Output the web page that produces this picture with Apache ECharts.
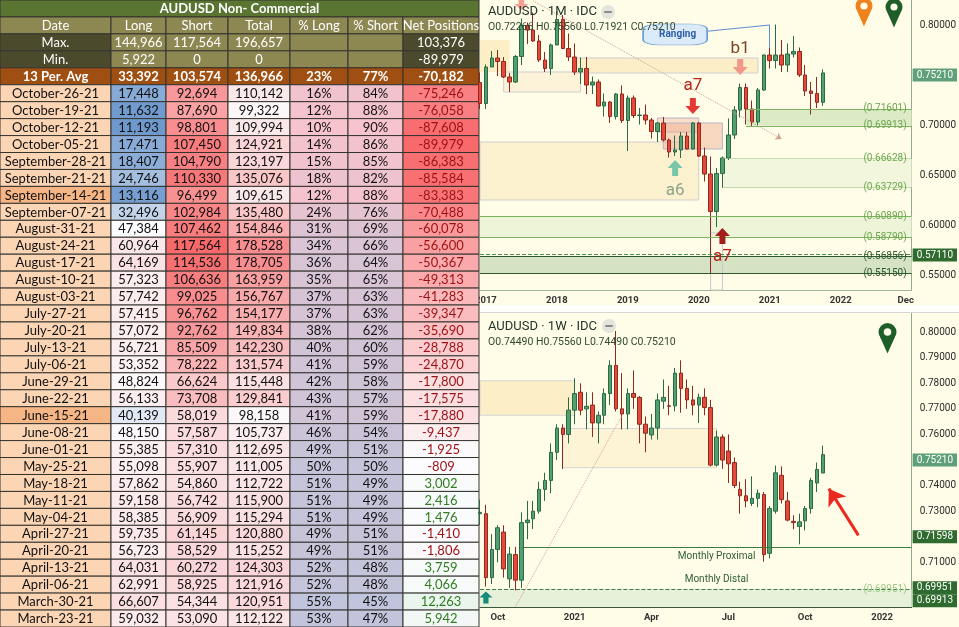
<!DOCTYPE html>
<html>
<head>
<meta charset="utf-8">
<title>AUDUSD Non-Commercial</title>
<script src="https://cdn.jsdelivr.net/npm/echarts/dist/echarts.min.js"></script>
<style>
  html, body { margin: 0; padding: 0; background: #fffce8; }
  #chart { width: 959px; height: 627px; }
</style>
</head>
<body>
<div id="chart"></div>
<script>
// COT table
const headers = ['Date', 'Long', 'Short', 'Total', '% Long', '% Short', 'Net Positions']
const dates = ['October-26-21', 'October-19-21', 'October-12-21', 'October-05-21', 'September-28-21', 'September-21-21',
  'September-14-21', 'September-07-21', 'August-31-21', 'August-24-21', 'August-17-21', 'August-10-21', 'August-03-21',
  'July-27-21', 'July-20-21', 'July-13-21', 'July-06-21', 'June-29-21', 'June-22-21', 'June-15-21', 'June-08-21',
  'June-01-21', 'May-25-21', 'May-18-21', 'May-11-21', 'May-04-21', 'April-27-21', 'April-20-21', 'April-13-21',
  'April-06-21', 'March-30-21', 'March-23-21']
const longs = [17448, 11632, 11193, 17471, 18407, 24746, 13116, 32496, 47384, 60964, 64169, 57323, 57742, 57415, 57072,
  56721, 53352, 48824, 56133, 40139, 48150, 55385, 55098, 57862, 59158, 58385, 59735, 56723, 64031, 62991, 66607, 59032]
const shorts = [92694, 87690, 98801, 107450, 104790, 110330, 96499, 102984, 107462, 117564, 114536, 106636, 99025, 96762,
  92762, 85509, 78222, 66624, 73708, 58019, 57587, 57310, 55907, 54860, 56742, 56909, 61145, 58529, 60272, 58925, 54344, 53090]
const totals = [110142, 99322, 109994, 124921, 123197, 135076, 109615, 135480, 154846, 178528, 178705, 163959, 156767,
  154177, 149834, 142230, 131574, 115448, 129841, 98158, 105737, 112695, 111005, 112722, 115900, 115294, 120880, 115252,
  124303, 121916, 120951, 112122]
const pctLong = [16, 12, 10, 14, 15, 18, 12, 24, 31, 34, 36, 35, 37, 37, 38, 40, 41, 42, 43, 41, 46, 49, 50, 51, 51, 51, 49, 49, 52, 52, 55, 53]
const pctShort = [84, 88, 90, 86, 85, 82, 88, 76, 69, 66, 64, 65, 63, 63, 62, 60, 59, 58, 57, 59, 54, 51, 50, 49, 49, 49, 51, 51, 48, 48, 45, 47]
const netPos = [-75246, -76058, -87608, -89979, -86383, -85584, -83383, -70488, -60078, -56600, -50367, -49313, -41283,
  -39347, -35690, -28788, -24870, -17800, -17575, -17880, -9437, -1925, -809, 3002, 2416, 1476, -1410, -1806, 3759, 4066, 12263, 5942]
const maxRow = [144966, 117564, 196657, null, null, 103376]
const minRow = [5922, 0, 0, null, null, -89979]
const avgRow = [33392, 103574, 136966, 23, 77, -70182]
const highlightDates = ['September-14-21', 'June-15-21']

// monthly candles, Dec-2016 .. Oct-2021: [open, close, low, high]
const monthlyOHLC = [
  [0.7425, 0.7215, 0.7160, 0.7525], [0.7215, 0.7580, 0.7160, 0.7605], [0.7580, 0.7670, 0.7580, 0.7740],
  [0.7670, 0.7635, 0.7490, 0.7750], [0.7635, 0.7480, 0.7470, 0.7680], [0.7480, 0.7430, 0.7330, 0.7520],
  [0.7430, 0.7685, 0.7420, 0.7700], [0.7685, 0.7995, 0.7600, 0.8065], [0.7995, 0.7950, 0.7810, 0.8025],
  [0.7950, 0.7840, 0.7830, 0.8125], [0.7840, 0.7650, 0.7630, 0.7900], [0.7650, 0.7565, 0.7530, 0.7730],
  [0.7565, 0.7800, 0.7500, 0.7815], [0.7800, 0.8055, 0.7800, 0.8135], [0.8055, 0.7765, 0.7760, 0.8100],
  [0.7765, 0.7680, 0.7640, 0.7915], [0.7680, 0.7530, 0.7500, 0.7815], [0.7530, 0.7565, 0.7410, 0.7675],
  [0.7565, 0.7400, 0.7310, 0.7680], [0.7400, 0.7430, 0.7310, 0.7485], [0.7430, 0.7190, 0.7185, 0.7455],
  [0.7190, 0.7230, 0.7085, 0.7315], [0.7230, 0.7085, 0.7020, 0.7240], [0.7085, 0.7310, 0.7055, 0.7320],
  [0.7310, 0.7045, 0.7020, 0.7395], [0.7045, 0.7270, 0.6740, 0.7295], [0.7270, 0.7095, 0.7070, 0.7295],
  [0.7095, 0.7100, 0.7005, 0.7170], [0.7100, 0.7050, 0.7005, 0.7205], [0.7050, 0.6935, 0.6865, 0.7070],
  [0.6935, 0.7020, 0.6830, 0.7030], [0.7020, 0.6850, 0.6835, 0.7080], [0.6850, 0.6730, 0.6675, 0.6865],
  [0.6730, 0.6750, 0.6690, 0.6895], [0.6750, 0.6890, 0.6670, 0.6930], [0.6890, 0.6760, 0.6755, 0.6930],
  [0.6760, 0.7020, 0.6755, 0.7030], [0.7020, 0.6690, 0.6680, 0.7030], [0.6690, 0.6510, 0.6435, 0.6775],
  [0.6510, 0.6135, 0.5510, 0.6685], [0.6135, 0.6515, 0.5980, 0.6570], [0.6515, 0.6670, 0.6370, 0.6685],
  [0.6670, 0.6900, 0.6650, 0.7065], [0.6900, 0.7150, 0.6860, 0.7190], [0.7150, 0.7375, 0.7075, 0.7415],
  [0.7375, 0.7160, 0.7005, 0.7415], [0.7160, 0.7030, 0.6990, 0.7245], [0.7030, 0.7350, 0.6990, 0.7370],
  [0.7350, 0.7700, 0.7340, 0.7705], [0.7700, 0.7645, 0.7565, 0.7820], [0.7645, 0.7700, 0.7565, 0.8005],
  [0.7700, 0.7600, 0.7530, 0.7850], [0.7600, 0.7710, 0.7530, 0.7815], [0.7710, 0.7735, 0.7675, 0.7890],
  [0.7735, 0.7500, 0.7480, 0.7775], [0.7500, 0.7340, 0.7290, 0.7600], [0.7340, 0.7315, 0.7105, 0.7430],
  [0.7315, 0.7227, 0.7170, 0.7480], [0.72266, 0.75210, 0.71921, 0.75560]
]
// weekly candles from 14-Sep-2020: [open, close, low, high]
const weeklyOHLC = [
  [0.7290, 0.7295, 0.7245, 0.7345], [0.7290, 0.7040, 0.7005, 0.7325], [0.7040, 0.7150, 0.7015, 0.7210],
  [0.7150, 0.7235, 0.7100, 0.7245], [0.7218, 0.7074, 0.7040, 0.7245], [0.7035, 0.7132, 0.7000, 0.7160],
  [0.7130, 0.7030, 0.6990, 0.7160], [0.7030, 0.7255, 0.7000, 0.7295], [0.7255, 0.7265, 0.7190, 0.7340],
  [0.7270, 0.7300, 0.7230, 0.7340], [0.7300, 0.7385, 0.7290, 0.7415], [0.7385, 0.7420, 0.7340, 0.7450],
  [0.7420, 0.7530, 0.7370, 0.7565], [0.7530, 0.7625, 0.7500, 0.7640], [0.7625, 0.7600, 0.7465, 0.7640],
  [0.7600, 0.7695, 0.7565, 0.7745], [0.7695, 0.7760, 0.7640, 0.7820], [0.7765, 0.7695, 0.7675, 0.7800],
  [0.7700, 0.7710, 0.7620, 0.7765], [0.7715, 0.7645, 0.7590, 0.7765], [0.7645, 0.7675, 0.7565, 0.7690],
  [0.7675, 0.7760, 0.7640, 0.7780], [0.7760, 0.7870, 0.7715, 0.7890], [0.7870, 0.7700, 0.7690, 0.8005],
  [0.7700, 0.7680, 0.7620, 0.7840], [0.7680, 0.7760, 0.7620, 0.7780], [0.7760, 0.7745, 0.7700, 0.7850],
  [0.7745, 0.7640, 0.7565, 0.7750], [0.7640, 0.7605, 0.7530, 0.7670], [0.7598, 0.7625, 0.7580, 0.7680],
  [0.7625, 0.7735, 0.7580, 0.7760], [0.7730, 0.7745, 0.7700, 0.7815], [0.7712, 0.7710, 0.7675, 0.7790],
  [0.7712, 0.7840, 0.7690, 0.7860], [0.7840, 0.7780, 0.7685, 0.7890], [0.7780, 0.7735, 0.7700, 0.7815],
  [0.7735, 0.7715, 0.7675, 0.7790], [0.7715, 0.7745, 0.7645, 0.7760], [0.7745, 0.7705, 0.7675, 0.7780],
  [0.7705, 0.7480, 0.7475, 0.7735], [0.7480, 0.7590, 0.7475, 0.7615], [0.7590, 0.7500, 0.7465, 0.7600],
  [0.7535, 0.7485, 0.7410, 0.7600], [0.7490, 0.7400, 0.7390, 0.7510], [0.7385, 0.7360, 0.7290, 0.7415],
  [0.7360, 0.7340, 0.7315, 0.7425], [0.7330, 0.7350, 0.7320, 0.7436], [0.7350, 0.7370, 0.7315, 0.7385],
  [0.7365, 0.7130, 0.7102, 0.7375], [0.7135, 0.7310, 0.7115, 0.7320], [0.7300, 0.7450, 0.7290, 0.7478],
  [0.7440, 0.7345, 0.7330, 0.7475], [0.7340, 0.7265, 0.7260, 0.7375], [0.7260, 0.7255, 0.7229, 0.7284],
  [0.7240, 0.7258, 0.7170, 0.7290], [0.7262, 0.7310, 0.7225, 0.7320], [0.7310, 0.7420, 0.7290, 0.7430],
  [0.7410, 0.7463, 0.7375, 0.7490], [0.7449, 0.7521, 0.7449, 0.7556]
]
const lastPrice = 0.75210
const mZone1 = [0.71601, 0.69913]
const mZone2 = [0.66628, 0.63729]
const mZone3 = [0.60890, 0.58790]
const mZone4 = [0.56856, 0.55150]
const mDashed = 0.57110
const wProximal = 0.71598
const wDistal = 0.69951
const wDistal2 = 0.69913

// axis categories
const months = []
for (let i = 0; i < 74; i++) months.push(new Date(Date.UTC(2016, 11 + i, 1)).toISOString().slice(0, 7))
const weeks = []
for (let i = 0; i < 74; i++) weeks.push(new Date(Date.UTC(2020, 8, 14 + 7 * i)).toISOString().slice(0, 10))
const M = i => months[i]
const W = i => weeks[i]

// colour helpers (excel-like conditional formatting)
function toRgb(h) { return [1, 3, 5].map(i => parseInt(h.slice(i, i + 2), 16)) }
function mix(a, b, t) {
  t = Math.max(0, Math.min(1, t))
  const A = toRgb(a), B = toRgb(b)
  return 'rgb(' + A.map((v, i) => Math.round(v + (B[i] - v) * t)).join(',') + ')'
}
const WHITE = '#fcfcfe', RED = '#f8696b', BLUE = '#5a8ac6', GREEN = '#63be7b'
const longColor = v => v < 47000 ? mix(BLUE, WHITE, (v - 5922) / (47000 - 5922)) : mix(WHITE, RED, (v - 47000) / (144966 - 47000))
const shortColor = v => mix(WHITE, RED, (v - 40000) / (117564 - 40000))
const totalColor = v => mix(WHITE, RED, (v - 95000) / (205000 - 95000))
const pctColor = p => mix('#f7c3cc', '#c0c4dc', (p - 10) / 45)
const netColor = v => v < 0 ? mix(WHITE, RED, -v / 89979) : mix(WHITE, GREEN, v / 103376)
const fmt = v => v === null ? '' : String(v).replace(/\B(?=(\d{3})+(?!\d))/g, ',')

// table cells
const colEdges = [0, 111, 166, 228, 290, 348, 403, 479]
const rowKeys = []
for (let i = 0; i < dates.length + 5; i++) rowKeys.push(String(i))
const cells = []
function cell(col, row, span, text, fill, color, weight) {
  cells.push({ value: [col, row], col, row, span, text, fill, color, weight: weight || 'normal' })
}
const KHAKI = '#8d8752', DARK = '#4b4a2d'
cell(0, 0, 7, 'AUDUSD Non- Commercial', '#597531', '#fff', 'bold')
headers.forEach((h, i) => cell(i, 1, 1, h, KHAKI, '#fff'))
;[['Max.', maxRow], ['Min.', minRow]].forEach(([label, vals], k) => {
  cell(0, 2 + k, 1, label, DARK, '#fff')
  vals.forEach((v, i) => cell(i + 1, 2 + k, 1, fmt(v), i === 5 ? DARK : KHAKI, '#fff'))
})
cell(0, 4, 1, '13 Per. Avg', '#9f4f11', '#fff', 'bold')
avgRow.forEach((v, i) => cell(i + 1, 4, 1, (i === 3 || i === 4) ? v + '%' : fmt(v), '#9f4f11', '#fff', 'bold'))
dates.forEach((d, r) => {
  const row = r + 5
  cell(0, row, 1, d, highlightDates.includes(d) ? '#f5b584' : '#fcd5b5', '#111')
  cell(1, row, 1, fmt(longs[r]), longColor(longs[r]), '#111')
  cell(2, row, 1, fmt(shorts[r]), shortColor(shorts[r]), '#111')
  cell(3, row, 1, fmt(totals[r]), totalColor(totals[r]), '#111')
  cell(4, row, 1, pctLong[r] + '%', pctColor(pctLong[r]), '#111')
  cell(5, row, 1, pctShort[r] + '%', pctColor(pctLong[r]), '#111')
  cell(6, row, 1, fmt(netPos[r]), netColor(netPos[r]), netPos[r] < 0 ? '#9c1014' : '#2f7d1f')
})

function renderCell(params, api) {
  const c = cells[params.dataIndex]
  const h = api.size([0, 1])[1]
  const yc = api.coord([0, c.row])[1]
  const x0 = api.coord([colEdges[c.col], c.row])[0]
  const x1 = api.coord([colEdges[c.col + c.span], c.row])[0]
  return {
    type: 'group',
    children: [
      { type: 'rect', shape: { x: x0, y: yc - h / 2, width: x1 - x0, height: h },
        style: { fill: c.fill, stroke: '#34342f', lineWidth: 1 } },
      { type: 'text', style: { x: (x0 + x1) / 2, y: yc + 0.5, text: c.text, fill: c.color,
        font: c.weight + ' 13px Lato', align: 'center', verticalAlign: 'middle' } }
    ]
  }
}

// marker helpers
const DOWN = 'path://M3,0L7,0L7,5L10,5L5,10L0,5L3,5Z'
const UP = 'path://M5,0L10,5L7,5L7,10L3,10L3,5L0,5Z'
const level = (y, from, to, color, type, text, textColor) => [
  { coord: [from, y], lineStyle: { color, type, width: 1 },
    label: text ? { show: true, position: 'insideEnd', formatter: text, color: textColor || color, fontSize: 10, fontFamily: 'Roboto' } : { show: false } },
  { coord: [to, y] }
]
const tag = (y, bg, dy) => ({
  yAxis: y, lineStyle: { color: 'rgba(0,0,0,0)', width: 0 },
  label: { show: true, position: 'end', distance: 1, formatter: y.toFixed(5), backgroundColor: bg, color: '#fff',
    padding: [2, 4, 1, 4], fontSize: 10, fontFamily: 'Roboto', offset: [0, dy || 0] }
})
const txt = (x, y, text, color, size) => ({
  coord: [x, y], symbol: 'circle', symbolSize: 1, itemStyle: { color: 'rgba(0,0,0,0)' },
  label: { show: true, position: 'inside', formatter: text, color, fontSize: size || 17, fontFamily: 'Roboto' }
})
const arrow = (x, y, sym, color, size) => ({
  coord: [x, y], symbol: sym, symbolSize: size || [15, 16], symbolKeepAspect: false,
  itemStyle: { color }, label: { show: false }
})
// map-pin icon built from basic shapes
const pin = (cx, cy, r, color) => [
  { type: 'polygon', shape: { points: [[cx - r * 0.85, cy + r * 0.5], [cx + r * 0.85, cy + r * 0.5], [cx, cy + r * 2.4]] }, style: { fill: color }, z: 10 },
  { type: 'circle', shape: { cx, cy, r }, style: { fill: color }, z: 10 },
  { type: 'circle', shape: { cx, cy, r: r * 0.42 }, style: { fill: '#fffce8' }, z: 11 }
]

const candleStyle = {
  color: '#51a070', color0: '#e4493a', borderColor: '#2c6a45', borderColor0: '#8e2a1f', borderWidth: 1
}
// price labels only on round levels (step in 1/10000 units)
const yLabel = (v, step, hide) => {
  const k = Math.round(v * 10000)
  return (k % step === 0 && !hide.includes(k)) ? v.toFixed(5) : ''
}

const chart = echarts.init(document.getElementById('chart'))
chart.setOption({
  animation: false,
  backgroundColor: '#fffce8',
  grid: [
    { left: 0, top: 0, width: 479, height: 627 },
    { left: 480, top: 0, width: 433, height: 290 },
    { left: 480, top: 313, width: 433, height: 294 }
  ],
  xAxis: [
    { gridIndex: 0, type: 'value', min: 0, max: 479, show: false },
    {
      gridIndex: 1, type: 'category', data: months, boundaryGap: false,
      axisLine: { lineStyle: { color: '#a4b3a0' } }, axisTick: { show: false }, splitLine: { show: false },
      axisLabel: {
        interval: (i, v) => v.endsWith('-01') || v === '2022-12',
        formatter: v => v.endsWith('-01') ? v.slice(0, 4) : 'Dec',
        color: '#333', fontSize: 9.5, fontWeight: 'bold', fontFamily: 'Roboto', margin: 6
      }
    },
    {
      gridIndex: 2, type: 'category', data: weeks, boundaryGap: false,
      axisLine: { lineStyle: { color: '#3a5a3a' } }, axisTick: { show: false }, splitLine: { show: false },
      axisLabel: {
        interval: (i, v) => [1, 4, 7, 10].includes(+v.slice(5, 7)) && +v.slice(8, 10) <= 7,
        formatter: v => { const m = +v.slice(5, 7); return m === 1 ? v.slice(0, 4) : ({ 4: 'Apr', 7: 'Jul', 10: 'Oct' })[m] },
        color: '#333', fontSize: 9.5, fontWeight: 'bold', fontFamily: 'Roboto', margin: 6
      }
    }
  ],
  yAxis: [
    { gridIndex: 0, type: 'category', data: rowKeys, inverse: true, show: false },
    {
      gridIndex: 1, type: 'value', position: 'right', min: 0.535, max: 0.825, interval: 0.005,
      axisLine: { show: true, lineStyle: { color: '#93a890' } }, axisTick: { show: false }, splitLine: { show: false },
      axisLabel: { formatter: v => yLabel(v, 500, [7500]), color: '#2b2b2b', fontSize: 10, fontFamily: 'Roboto', margin: 8 }
    },
    {
      gridIndex: 2, type: 'value', position: 'right', min: 0.6925, max: 0.8075, interval: 0.0025,
      axisLine: { show: true, lineStyle: { color: '#93a890' } }, axisTick: { show: false }, splitLine: { show: false },
      axisLabel: { formatter: v => yLabel(v, 100, [7500, 7000]), color: '#2b2b2b', fontSize: 10, fontFamily: 'Roboto', margin: 8 }
    }
  ],
  series: [
    {
      type: 'custom', xAxisIndex: 0, yAxisIndex: 0, renderItem: renderCell,
      data: cells.map(c => c.value), encode: { x: 0, y: 1 }, silent: true
    },
    {
      type: 'candlestick', xAxisIndex: 1, yAxisIndex: 1, data: monthlyOHLC, barWidth: 4, itemStyle: candleStyle,
      markArea: {
        silent: true,
        data: [
          [{ coord: [M(0), 0.785], itemStyle: { color: '#fcefc6' } }, { coord: [M(5), 0.753] }],
          [{ coord: [M(4), 0.753], itemStyle: { color: '#fdf3d8', borderColor: '#cdcdcd', borderWidth: 1 } }, { coord: [M(17), 0.733] }],
          [{ coord: [M(16), 0.767], itemStyle: { color: '#fcefc8', borderColor: '#cfcfcf', borderWidth: 1 } }, { coord: [M(47), 0.752] }],
          [{ coord: [M(0), 0.683], itemStyle: { color: '#fcf1cf', borderColor: '#cfcfcf', borderWidth: 1 } }, { coord: [M(37), 0.625] }],
          [{ coord: [M(30), 0.707], itemStyle: { color: 'rgba(238,170,140,0.35)', borderColor: '#b9b4cc', borderWidth: 1 } }, { coord: [M(37), 0.693] }],
          [{ coord: [M(31), 0.702], itemStyle: { color: 'rgba(238,170,140,0.45)', borderColor: '#b9b4cc', borderWidth: 1 } }, { coord: [M(41), 0.676] }],
          [{ coord: [M(45), mZone1[0]], itemStyle: { color: '#dcebc6' } }, { coord: [M(73), mZone1[1]] }],
          [{ coord: [M(41), mZone2[0]], itemStyle: { color: '#f1f6dc' } }, { coord: [M(73), mZone2[1]] }],
          [{ coord: [M(0), mZone3[0]], itemStyle: { color: '#eef4d8' } }, { coord: [M(73), mZone3[1]] }],
          [{ coord: [M(0), mZone4[0]], itemStyle: { color: '#d5e2c3' } }, { coord: [M(73), mZone4[1]] }],
          [{ coord: [M(39), 0.592], itemStyle: { color: 'rgba(0,0,0,0)', borderColor: '#c9c9c9', borderWidth: 1 } }, { coord: [M(41), 0.535] }]
        ]
      },
      markLine: {
        silent: true, symbol: ['none', 'none'],
        data: [
          level(mZone1[0], M(45), M(73), '#7db45d', 'solid', '(0.71601)', '#6aa84f'),
          level(mZone1[1], M(45), M(73), '#7db45d', 'solid', '(0.69913)', '#6aa84f'),
          level(mZone2[0], M(41), M(73), '#8fbf74', 'dotted', '(0.66628)', '#6aa84f'),
          level(mZone2[1], M(41), M(73), '#8fbf74', 'dotted', '(0.63729)', '#6aa84f'),
          level(mZone3[0], M(0), M(73), '#7db45d', 'solid', '(0.60890)', '#6aa84f'),
          level(mZone3[1], M(0), M(73), '#7db45d', 'solid', '(0.58790)', '#6aa84f'),
          level(mDashed, M(0), M(73), '#4f8f4f', 'dashed', '', ''),
          level(mZone4[0], M(0), M(73), '#2f5a2f', 'solid', '(0.56856)', '#2f5a2f'),
          level(mZone4[1], M(0), M(73), '#2f5a2f', 'solid', '(0.55150)', '#2f5a2f'),
          [{ coord: [M(9), 0.824], lineStyle: { color: '#c9a58c', type: 'dotted', width: 1 } }, { coord: [M(51), 0.686], symbol: 'arrow', symbolSize: 6 }],
          [{ coord: [M(38), 0.7935], lineStyle: { color: '#5d8fcf', type: 'solid', width: 1 } }, { coord: [M(49), 0.800] }],
          [{ coord: [M(49), 0.800], lineStyle: { color: '#5d8fcf', type: 'solid', width: 1 } }, { coord: [M(49), 0.777] }],
          tag(lastPrice, '#5f9f79'),
          tag(mDashed, '#2f6b2f')
        ]
      },
      markPoint: {
        silent: true,
        data: [
          arrow(M(7), 0.821, DOWN, '#f4a092', [14, 12]),
          {
            coord: [M(33), 0.7905], symbol: 'roundRect', symbolSize: [64, 21],
            itemStyle: { color: '#dbeaf8', borderColor: '#6c9fd6', borderWidth: 1 },
            label: { show: true, position: 'inside', formatter: '  Ranging', color: '#2d5fa8', fontSize: 10, fontWeight: 'bold', fontFamily: 'Roboto' }
          },
          txt(M(36), 0.739, 'a7', '#b8231b'),
          arrow(M(36), 0.719, DOWN, '#e53935'),
          txt(M(44), 0.776, 'b1', '#7a4520'),
          arrow(M(44), 0.758, DOWN, '#f3978b'),
          txt(M(33), 0.634, 'a6', '#8aa38a'),
          arrow(M(33), 0.657, UP, '#79c6ab'),
          txt(M(41), 0.568, 'a7', '#b8231b'),
          arrow(M(41), 0.589, UP, '#a51c1c')
        ]
      }
    },
    {
      type: 'candlestick', xAxisIndex: 2, yAxisIndex: 2, data: weeklyOHLC, barWidth: 4, itemStyle: candleStyle,
      markArea: {
        silent: true,
        data: [
          [{ coord: [W(0), 0.781], itemStyle: { color: '#fcefc8', borderColor: '#d5d5d5', borderWidth: 1 } }, { coord: [W(16), 0.7675] }],
          [{ coord: [W(14), 0.7623], itemStyle: { color: '#fdf3d5', borderColor: '#d5d5d5', borderWidth: 1 } }, { coord: [W(40), 0.747] }],
          [{ coord: [W(0), wDistal], itemStyle: { color: '#e7f0d8' } }, { coord: [W(73), 0.6925] }]
        ]
      },
      markLine: {
        silent: true, symbol: ['none', 'none'],
        data: [
          [{ coord: [W(7), wProximal], lineStyle: { color: '#3e7d3e', width: 1, type: 'solid' },
            label: { show: true, position: 'insideMiddleBottom', formatter: 'Monthly Proximal', color: '#2e5e2e', fontSize: 10, fontFamily: 'Roboto' } },
          { coord: [W(73), wProximal] }],
          [{ coord: [W(7), wDistal], lineStyle: { color: '#3e7d3e', width: 1, type: 'dashed' },
            label: { show: true, position: 'insideMiddleTop', formatter: 'Monthly Distal', color: '#2e5e2e', fontSize: 10, fontFamily: 'Roboto' } },
          { coord: [W(73), wDistal] }],
          level(wDistal, W(0), W(7), '#3e7d3e', 'dashed', '', ''),
          level(wDistal, W(60), W(73), 'rgba(0,0,0,0)', 'solid', '(0.69951)', '#9cc98a'),
          [{ coord: [W(6), 0.6926], lineStyle: { color: '#d0a58c', type: 'dotted', width: 1 } }, { coord: [W(24), 0.7673] }],
          [{ coord: [W(64), 0.7205], lineStyle: { color: '#ea2a1f', type: 'solid', width: 3 } }, { coord: [W(59), 0.7388], symbol: 'arrow', symbolSize: 16 }],
          tag(lastPrice, '#5f9f79'),
          tag(wProximal, '#2f6b2f'),
          tag(wDistal, '#2f6b2f'),
          tag(wDistal2, '#2f6b2f', 13)
        ]
      },
      markPoint: {
        silent: true,
        data: [arrow(W(1), 0.6962, UP, '#178a79', [13, 12])]
      }
    }
  ],
  graphic: [
    { type: 'rect', shape: { x: 480, y: 305, width: 479, height: 7 }, style: { fill: '#ffffff' }, z: 10 },
    { type: 'rect', shape: { x: 480, y: 312, width: 479, height: 1 }, style: { fill: '#d6d6d6' }, z: 10 },
    { type: 'text', x: 488, y: 5, style: { text: 'AUDUSD · 1M · IDC', fill: '#22352a', font: '13px Roboto' }, z: 10 },
    { type: 'text', x: 488, y: 22, style: { text: 'O0.72266 H0.75560 L0.71921 C0.75210', fill: '#2f4a2f', font: '10.5px Roboto' }, z: 10 },
    { type: 'circle', shape: { cx: 608, cy: 12, r: 7 }, style: { fill: '#e4e4dc' }, z: 10 },
    { type: 'rect', shape: { x: 604, y: 11, width: 8, height: 2, r: 1 }, style: { fill: '#8a8a8a' }, z: 11 },
    { type: 'text', x: 488, y: 320, style: { text: 'AUDUSD · 1W · IDC', fill: '#22352a', font: '13px Roboto' }, z: 10 },
    { type: 'text', x: 488, y: 337, style: { text: 'O0.74490 H0.75560 L0.74490 C0.75210', fill: '#2f4a2f', font: '10.5px Roboto' }, z: 10 },
    { type: 'circle', shape: { cx: 609, cy: 326, r: 7 }, style: { fill: '#e4e4dc' }, z: 10 },
    { type: 'rect', shape: { x: 605, y: 325, width: 8, height: 2, r: 1 }, style: { fill: '#8a8a8a' }, z: 11 },
    ...pin(864, 6, 8.5, '#f0821e'),
    ...pin(894, 7, 8.5, '#1e5e28'),
    ...pin(887.5, 332, 9, '#1e5e28')
  ]
})
</script>
</body>
</html>
